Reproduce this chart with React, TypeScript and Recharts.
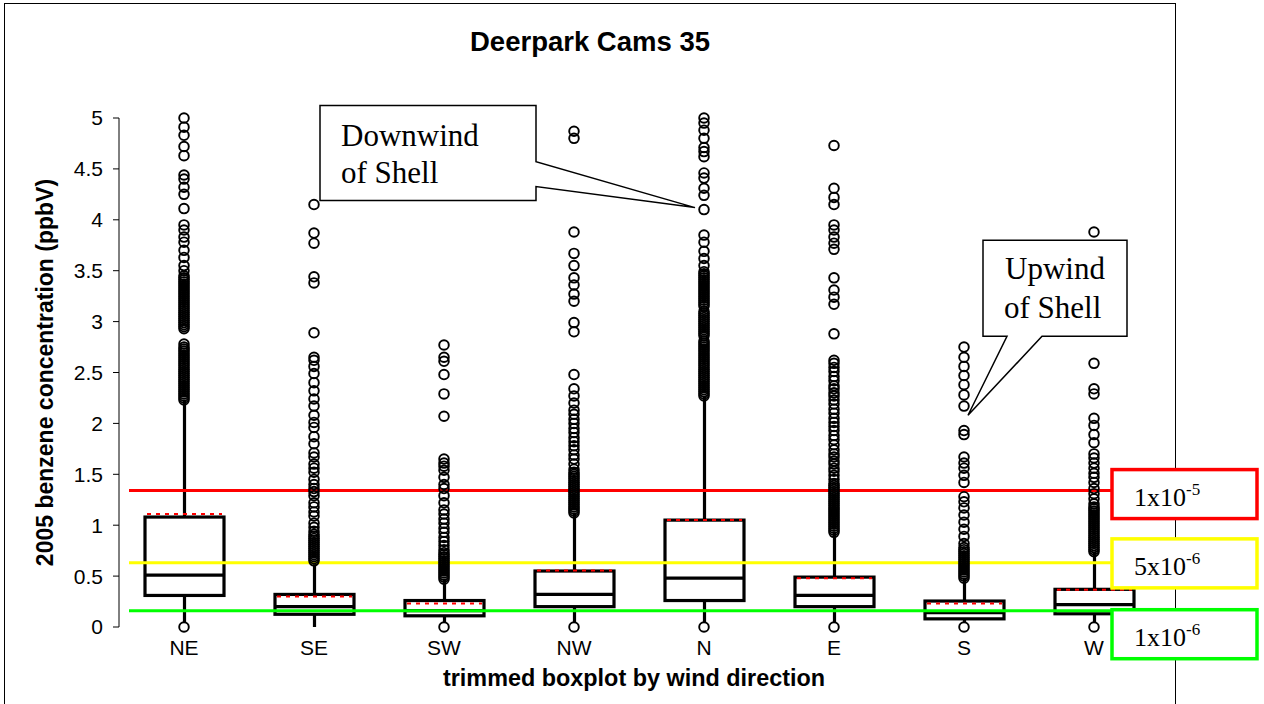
import React from "react";
import {
  ComposedChart,
  Bar,
  Scatter,
  XAxis,
  YAxis,
  ReferenceLine,
  ReferenceDot,
} from "recharts";

// wind directions (x categories)
const directions = ["NE", "SE", "SW", "NW", "N", "E", "S", "W"];

// box statistics, ppbV
const q1 = [0.31, 0.125, 0.11, 0.2, 0.26, 0.2, 0.08, 0.13];
const medians = [0.51, 0.2, 0.16, 0.32, 0.48, 0.31, 0.14, 0.22];
const q3 = [1.08, 0.32, 0.26, 0.55, 1.05, 0.49, 0.255, 0.37];
const means = [1.11, 0.3, 0.23, 0.555, 1.05, 0.48, 0.23, 0.365];
const whiskerLow = [0.04, 0.0, 0.04, 0.04, 0.04, 0.04, 0.04, 0.04];
const whiskerHigh = [2.23, 0.65, 0.47, 1.12, 2.27, 0.93, 0.48, 0.74];

// outliers per direction
const outNE = [
  0.0, 2.23, 2.25, 2.27, 2.29, 2.31, 2.33, 2.35, 2.37, 2.39, 2.41, 2.43, 2.45,
  2.47, 2.49, 2.51, 2.53, 2.55, 2.57, 2.59, 2.61, 2.63, 2.65, 2.67, 2.69, 2.71,
  2.73, 2.75, 2.78, 2.93, 2.95, 2.97, 2.99, 3.01, 3.03, 3.05, 3.07, 3.09, 3.11,
  3.13, 3.15, 3.17, 3.19, 3.21, 3.23, 3.25, 3.27, 3.29, 3.31, 3.33, 3.35, 3.37,
  3.39, 3.41, 3.43, 3.45, 3.5, 3.55, 3.63, 3.7, 3.78, 3.83, 3.9, 3.95, 4.11,
  4.25, 4.32, 4.4, 4.44, 4.63, 4.72, 4.83, 4.91, 5.0,
];
const outSE = [
  0.65, 0.67, 0.69, 0.71, 0.73, 0.75, 0.77, 0.79, 0.81, 0.83, 0.85, 0.87, 0.89,
  0.91, 0.94, 0.98, 1.02, 1.09, 1.13, 1.18, 1.22, 1.29, 1.33, 1.36, 1.4, 1.45,
  1.52, 1.56, 1.6, 1.67, 1.71, 1.8, 1.87, 1.96, 2.01, 2.08, 2.17, 2.24, 2.32,
  2.4, 2.49, 2.56, 2.62, 2.65, 2.89, 3.38, 3.44, 3.77, 3.87, 4.15,
];
const outSW = [
  0.0, 0.47, 0.49, 0.51, 0.53, 0.55, 0.57, 0.59, 0.61, 0.63, 0.65, 0.67, 0.69,
  0.71, 0.73, 0.76, 0.8, 0.84, 0.88, 0.93, 0.97, 1.02, 1.06, 1.11, 1.15, 1.22,
  1.29, 1.36, 1.4, 1.47, 1.54, 1.58, 1.61, 1.65, 2.07, 2.29, 2.48, 2.61, 2.65,
  2.77,
];
const outNW = [
  0.0, 1.12, 1.14, 1.16, 1.18, 1.2, 1.22, 1.24, 1.26, 1.28, 1.3, 1.32, 1.34,
  1.36, 1.38, 1.4, 1.42, 1.44, 1.46, 1.48, 1.5, 1.52, 1.55, 1.6, 1.65, 1.69,
  1.74, 1.78, 1.82, 1.86, 1.91, 1.95, 2.0, 2.04, 2.09, 2.13, 2.2, 2.27, 2.34,
  2.48, 2.9, 2.99, 3.2, 3.27, 3.36, 3.43, 3.55, 3.67, 3.88, 4.8, 4.87,
];
const outN = [
  0.0, 2.27, 2.29, 2.31, 2.33, 2.35, 2.37, 2.39, 2.41, 2.43, 2.45, 2.47, 2.49,
  2.51, 2.53, 2.55, 2.57, 2.59, 2.61, 2.63, 2.65, 2.67, 2.69, 2.71, 2.73, 2.75,
  2.77, 2.79, 2.81, 2.86, 2.88, 2.9, 2.92, 2.94, 2.96, 2.98, 3.0, 3.02, 3.04,
  3.06, 3.08, 3.1, 3.15, 3.17, 3.19, 3.21, 3.23, 3.25, 3.27, 3.29, 3.31, 3.33,
  3.35, 3.37, 3.39, 3.41, 3.43, 3.45, 3.47, 3.49, 3.55, 3.62, 3.69, 3.78, 3.85,
  4.1, 4.24, 4.31, 4.41, 4.46, 4.62, 4.67, 4.71, 4.8, 4.88, 4.95, 5.0,
];
const outE = [
  0.0, 0.93, 0.95, 0.97, 0.99, 1.01, 1.03, 1.05, 1.07, 1.09, 1.11, 1.13, 1.15,
  1.17, 1.19, 1.21, 1.23, 1.25, 1.27, 1.29, 1.31, 1.33, 1.35, 1.37, 1.39, 1.41,
  1.45, 1.49, 1.53, 1.56, 1.6, 1.63, 1.67, 1.7, 1.74, 1.79, 1.84, 1.88, 1.93,
  1.97, 2.01, 2.05, 2.1, 2.14, 2.19, 2.23, 2.27, 2.3, 2.34, 2.37, 2.42, 2.46,
  2.51, 2.55, 2.59, 2.62, 2.88, 3.17, 3.24, 3.31, 3.43, 3.71, 3.77, 3.83, 3.9,
  3.95, 4.15, 4.22, 4.31, 4.73,
];
const outS = [
  0.0, 0.48, 0.5, 0.52, 0.54, 0.56, 0.58, 0.6, 0.62, 0.64, 0.66, 0.68, 0.7,
  0.72, 0.74, 0.76, 0.78, 0.82, 0.89, 0.96, 1.03, 1.1, 1.17, 1.23, 1.28, 1.42,
  1.49, 1.56, 1.61, 1.67, 1.89, 1.93, 2.17, 2.28, 2.38, 2.47, 2.56, 2.65, 2.75,
];
const outW = [
  0.0, 0.74, 0.76, 0.78, 0.8, 0.82, 0.84, 0.86, 0.88, 0.9, 0.92, 0.94, 0.96,
  0.98, 1.0, 1.02, 1.04, 1.06, 1.08, 1.1, 1.12, 1.14, 1.16, 1.18, 1.21, 1.26,
  1.31, 1.36, 1.42, 1.47, 1.51, 1.56, 1.61, 1.66, 1.7, 1.81, 1.89, 1.98, 2.05,
  2.29, 2.34, 2.59, 3.88,
];
const outliers = [outNE, outSE, outSW, outNW, outN, outE, outS, outW];

// y axis ticks
const yTicks = [0, 0.5, 1, 1.5, 2, 2.5, 3, 3.5, 4, 4.5, 5];

// cancer risk levels (ppbV) and their labels
const riskLevels = [1.34, 0.63, 0.16];
const riskBase = ["1x10", "5x10", "1x10"];
const riskExp = ["-5", "-6", "-6"];

const riskColors = ["#ff0000", "#ffff00", "#00ff00"];
const riskBoxShift = [-21, -24, -1];

const boxData = directions.map((dir, i) => ({
  dir,
  range: [whiskerLow[i], whiskerHigh[i]],
  q1: q1[i],
  median: medians[i],
  q3: q3[i],
  mean: means[i],
}));

const pointData = directions.flatMap((dir, i) =>
  outliers[i].map((value) => ({ dir, value }))
);

const SANS = "'Liberation Sans', Arial, sans-serif";
const SERIF = "'Liberation Serif', 'Times New Roman', serif";

function BoxShape(props: any) {
  const { x, y, width, height, payload } = props;
  const top = Math.min(y, y + height);
  const bottom = Math.max(y, y + height);
  const [lo, hi] = payload.range;
  const toY = (v: number) => bottom - ((v - lo) / (hi - lo)) * (bottom - top);
  const cx = x + width / 2;
  const yq1 = toY(payload.q1);
  const yq3 = toY(payload.q3);
  const ymed = toY(payload.median);
  const ymean = toY(payload.mean);

  return (
    <g>
      <line x1={cx} x2={cx} y1={top} y2={yq3} stroke="#000" strokeWidth={3.2} />
      <line x1={cx} x2={cx} y1={yq1} y2={bottom} stroke="#000" strokeWidth={3.2} />
      <rect
        x={x}
        y={yq3}
        width={width}
        height={yq1 - yq3}
        fill="#fff"
        stroke="#000"
        strokeWidth={3.2}
      />
      <line x1={x} x2={x + width} y1={ymed} y2={ymed} stroke="#000" strokeWidth={3.2} />
      <line
        x1={x + 2}
        x2={x + width - 2}
        y1={ymean}
        y2={ymean}
        stroke="#ff0000"
        strokeWidth={2}
        strokeDasharray="4 5"
      />
    </g>
  );
}

function Ring(props: any) {
  return (
    <circle
      cx={props.cx}
      cy={props.cy}
      r={4.8}
      fill="none"
      stroke="#000"
      strokeWidth={1.9}
    />
  );
}

const riskLine = (i: number) => (p: any) => (
  <line
    x1={p.x1 + 10}
    y1={p.y1}
    x2={p.x2}
    y2={p.y2}
    stroke={riskColors[i]}
    strokeWidth={3}
  />
);

const riskLabel = (i: number) => (p: any) => {
  const vb = p.viewBox;
  const bx = vb.x + vb.width - 47;
  const by = vb.y + riskBoxShift[i];
  return (
    <g>
      <rect
        x={bx}
        y={by}
        width={145}
        height={49}
        fill="#fff"
        stroke={riskColors[i]}
        strokeWidth={3.5}
      />
      <text x={bx + 22} y={by + 36} fontFamily={SERIF} fontSize={26} fill="#000">
        {riskBase[i]}
        <tspan dy={-11} fontSize={17}>
          {riskExp[i]}
        </tspan>
      </text>
    </g>
  );
};

// callout pointing at the N outliers
function DownwindCallout(p: any) {
  const tx = p.cx - 9;
  const ty = p.cy - 1;
  const l = tx - 375;
  const r = tx - 159;
  const t = ty - 102;
  const b = ty - 7;
  const pts = [
    [l, t],
    [r, t],
    [r, ty - 46],
    [tx, ty],
    [r, ty - 21],
    [r, b],
    [l, b],
  ]
    .map((q) => q.join(","))
    .join(" ");
  return (
    <g>
      <polygon points={pts} fill="#fff" stroke="#000" strokeWidth={1.5} />
      <text x={l + 21} y={t + 40} fontFamily={SERIF} fontSize={31} fill="#000">
        Downwind
      </text>
      <text x={l + 21} y={t + 77} fontFamily={SERIF} fontSize={31} fill="#000">
        of Shell
      </text>
    </g>
  );
}

// callout pointing at the S outliers
function UpwindCallout(p: any) {
  const tx = p.cx + 4;
  const ty = p.cy - 1;
  const l = tx + 15;
  const r = tx + 159;
  const t = ty - 175;
  const b = ty - 79;
  const pts = [
    [l, t],
    [r, t],
    [r, b],
    [tx + 74, b],
    [tx, ty],
    [tx + 39, b],
    [l, b],
  ]
    .map((q) => q.join(","))
    .join(" ");
  return (
    <g>
      <polygon points={pts} fill="#fff" stroke="#000" strokeWidth={1.5} />
      <text x={l + 22} y={t + 39} fontFamily={SERIF} fontSize={31} fill="#000">
        Upwind
      </text>
      <text x={l + 21} y={t + 78} fontFamily={SERIF} fontSize={31} fill="#000">
        of Shell
      </text>
    </g>
  );
}

export default function App() {
  return (
    <div
      style={{
        position: "absolute",
        left: 0,
        top: 0,
        width: 1264,
        height: 704,
        overflow: "hidden",
        background: "#fff",
      }}
    >
      {/* FRAME */}
      <div
        style={{
          position: "absolute",
          left: 4,
          top: 3,
          width: 1170,
          height: 760,
          border: "1px solid #000",
        }}
      />

      {/* TITLE */}
      <div
        style={{
          position: "absolute",
          left: 4,
          top: 26,
          width: 1172,
          lineHeight: "32px",
          textAlign: "center",
          fontFamily: SANS,
          fontWeight: "bold",
          fontSize: 27.5,
        }}
      >
        Deerpark Cams 35
      </div>

      {/* CHART */}
      <div style={{ position: "absolute", left: 0, top: 0 }}>
        <ComposedChart
          width={1264}
          height={704}
          data={boxData}
          margin={{ top: 118, right: 105, bottom: 37, left: 0 }}
        >
          <XAxis
            dataKey="dir"
            type="category"
            allowDuplicatedCategory={false}
            axisLine={false}
            tickLine={false}
            tickSize={6}
            tickMargin={7}
            height={40}
            interval={0}
            tick={{ fontSize: 21, fill: "#000", fontFamily: SANS }}
            label={(p: any) => (
              <text
                x={p.viewBox.x + p.viewBox.width / 2 - 5}
                y={p.viewBox.y + 59}
                textAnchor="middle"
                fontFamily={SANS}
                fontWeight="bold"
                fontSize={23.4}
                fill="#000"
              >
                trimmed boxplot by wind direction
              </text>
            )}
          />
          <YAxis
            type="number"
            domain={[0, 5]}
            ticks={yTicks}
            interval={0}
            width={119}
            axisLine={{ stroke: "#000" }}
            tickLine={{ stroke: "#000" }}
            tickSize={6}
            tickMargin={10}
            tick={{ fontSize: 21, fill: "#000", fontFamily: SANS }}
            label={(p: any) => {
              const cx = p.viewBox.x + 45;
              const cy = p.viewBox.y + p.viewBox.height / 2;
              return (
                <text
                  x={cx}
                  y={cy}
                  transform={`rotate(-90 ${cx} ${cy})`}
                  textAnchor="middle"
                  dominantBaseline="central"
                  fontFamily={SANS}
                  fontWeight="bold"
                  fontSize={23}
                  fill="#000"
                >
                  2005 benzene concentration (ppbV)
                </text>
              );
            }}
          />

          <Bar
            dataKey="range"
            barSize={79}
            shape={BoxShape}
            isAnimationActive={false}
          />

          <Scatter
            data={pointData}
            dataKey="value"
            shape={Ring}
            isAnimationActive={false}
          />

          {riskLevels.map((lvl, i) => (
            <ReferenceLine
              key={i}
              y={lvl}
              shape={riskLine(i)}
              label={riskLabel(i)}
            />
          ))}

          <ReferenceDot x="N" y={4.11} shape={DownwindCallout} />
          <ReferenceDot x="S" y={2.07} shape={UpwindCallout} />
        </ComposedChart>
      </div>
    </div>
  );
}
